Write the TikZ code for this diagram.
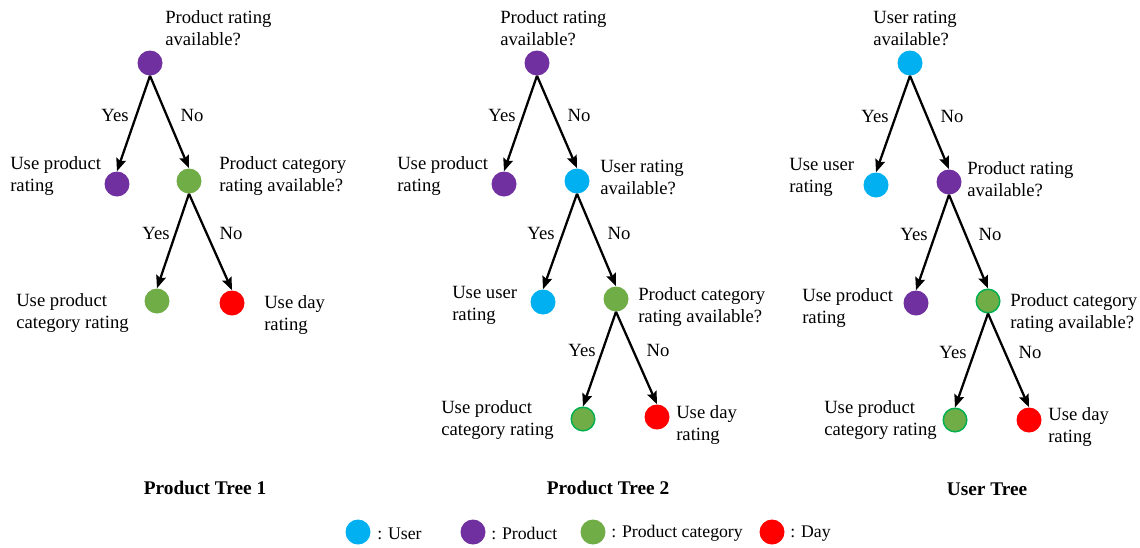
\documentclass[tikz,border=0pt]{standalone}
\usepackage{fontspec}
\setmainfont{Liberation Serif}
\usetikzlibrary{arrows.meta}
\definecolor{cpurple}{HTML}{7030A0}
\definecolor{cblue}{HTML}{00B0F0}
\definecolor{cgreen}{HTML}{70AD47}
\definecolor{cgreenb}{HTML}{00B050}
\definecolor{cred}{HTML}{FF0000}
\tikzset{
  dot/.style={circle, minimum size=18.75pt, inner sep=0pt},
  pu/.style={dot, fill=cpurple},
  bl/.style={dot, fill=cblue},
  gr/.style={dot, fill=cgreen},
  gb/.style={dot, fill=cgreen, draw=cgreenb, line width=1.1pt, minimum size=17.7pt},
  rd/.style={dot, fill=cred},
  lbl/.style={anchor=west, align=left, inner sep=0pt, yshift=-1.5pt, font=\fontsize{14}{16.5}\selectfont},
  yn/.style={inner sep=0pt, font=\fontsize{14}{16.5}\selectfont},
  ttl/.style={inner sep=0pt, font=\fontsize{14.5}{17}\selectfont\bfseries},
  leg/.style={anchor=west, inner sep=0pt, yshift=-1.2pt, font=\fontsize{13.3}{15}\selectfont},
  arr/.style={-{Stealth[length=9.5pt,width=7.5pt,inset=1.5pt]}, line width=1.7pt},
}
\begin{document}
\begin{tikzpicture}[x=0.75pt,y=-0.75pt]
\useasboundingbox (0,0) rectangle (1140,547);
% ---- Product Tree 1
\node[pu] (a1) at (150,63) {};
\node[lbl] (a1t) at (165,26) {Product rating\\available?};
\node[pu] (a2) at (117,184) {};
\node[lbl] (a2t) at (10,174) {Use product\\rating};
\node[gr] (a3) at (189,181) {};
\node[lbl] (a3t) at (219,174) {Product category\\rating available?};
\node[gr] (a4) at (157,301) {};
\node[lbl] (a4t) at (16,311) {Use product\\category rating};
\node[rd] (a5) at (232,303) {};
\node[lbl] (a5t) at (264,313) {Use day\\rating};
\draw[arr] (a1.south) -- (a2.north);
\draw[arr] (a1.south) -- (a3.north);
\draw[arr] (a3.south) -- (a4.north);
\draw[arr] (a3.south) -- (a5.north);
\node[yn] (ay1) at (115,115) {Yes};
\node[yn] (an1) at (192,115) {No};
\node[yn] (ay2) at (156,233) {Yes};
\node[yn] (an2) at (231,233) {No};
\node[ttl] (at) at (205,488) {Product Tree 1};
% ---- Product Tree 2
\node[pu] (b1) at (537,63) {};
\node[lbl] (b1t) at (500,26) {Product rating\\available?};
\node[pu] (b2) at (504,184) {};
\node[lbl] (b2t) at (397,174) {Use product\\rating};
\node[bl] (b3) at (577,181) {};
\node[lbl] (b3t) at (600,175) {User rating\\available?};
\node[bl] (b4) at (543,302) {};
\node[lbl] (b4t) at (452,303) {Use user\\rating};
\node[gr] (b5) at (616,299) {};
\node[lbl] (b5t) at (638,305) {Product category\\rating available?};
\node[gb] (b6) at (583,419) {};
\node[lbl] (b6t) at (441,418) {Use product\\category rating};
\node[rd] (b7) at (657,417) {};
\node[lbl] (b7t) at (676,423) {Use day\\rating};
\draw[arr] (b1.south) -- (b2.north);
\draw[arr] (b1.south) -- (b3.north);
\draw[arr] (b3.south) -- (b4.north);
\draw[arr] (b3.south) -- (b5.north);
\draw[arr] (b5.south) -- (b6.north);
\draw[arr] (b5.south) -- (b7.north);
\node[yn] (by1) at (502,115) {Yes};
\node[yn] (bn1) at (579,115) {No};
\node[yn] (by2) at (541,233) {Yes};
\node[yn] (bn2) at (619,233) {No};
\node[yn] (by3) at (582,350) {Yes};
\node[yn] (bn3) at (658,350) {No};
\node[ttl] (bt) at (608,488) {Product Tree 2};
% ---- User Tree
\node[bl] (c1) at (910,63) {};
\node[lbl] (c1t) at (873,26) {User rating\\available?};
\node[bl] (c2) at (876,185) {};
\node[lbl] (c2t) at (789,175) {Use user\\rating};
\node[pu] (c3) at (949,182) {};
\node[lbl] (c3t) at (967,177) {Product rating\\available?};
\node[pu] (c4) at (916,303) {};
\node[lbl] (c4t) at (802,306) {Use product\\rating};
\node[gb] (c5) at (988,301) {};
\node[lbl] (c5t) at (1010,311) {Product category\\rating available?};
\node[gb] (c6) at (955,420) {};
\node[lbl] (c6t) at (824,418) {Use product\\category rating};
\node[rd] (c7) at (1029,420) {};
\node[lbl] (c7t) at (1048,425) {Use day\\rating};
\draw[arr] (c1.south) -- (c2.north);
\draw[arr] (c1.south) -- (c3.north);
\draw[arr] (c3.south) -- (c4.north);
\draw[arr] (c3.south) -- (c5.north);
\draw[arr] (c5.south) -- (c6.north);
\draw[arr] (c5.south) -- (c7.north);
\node[yn] (cy1) at (875,116) {Yes};
\node[yn] (cn1) at (952,116) {No};
\node[yn] (cy2) at (914,234) {Yes};
\node[yn] (cn2) at (990,234) {No};
\node[yn] (cy3) at (953,352) {Yes};
\node[yn] (cn3) at (1030,352) {No};
\node[ttl] (ct) at (987,489) {User Tree};
% ---- Legend
\node[bl] (l1) at (358,532) {};
\node[leg] (l1t) at (377,532) {: User};
\node[pu] (l2) at (473,532) {};
\node[leg] (l2t) at (491,532) {: Product};
\node[gr] (l3) at (593,532) {};
\node[leg] (l3t) at (611,532) {: Product category};
\node[rd] (l4) at (772,532) {};
\node[leg] (l4t) at (790,532) {: Day};
\end{tikzpicture}
\end{document}
